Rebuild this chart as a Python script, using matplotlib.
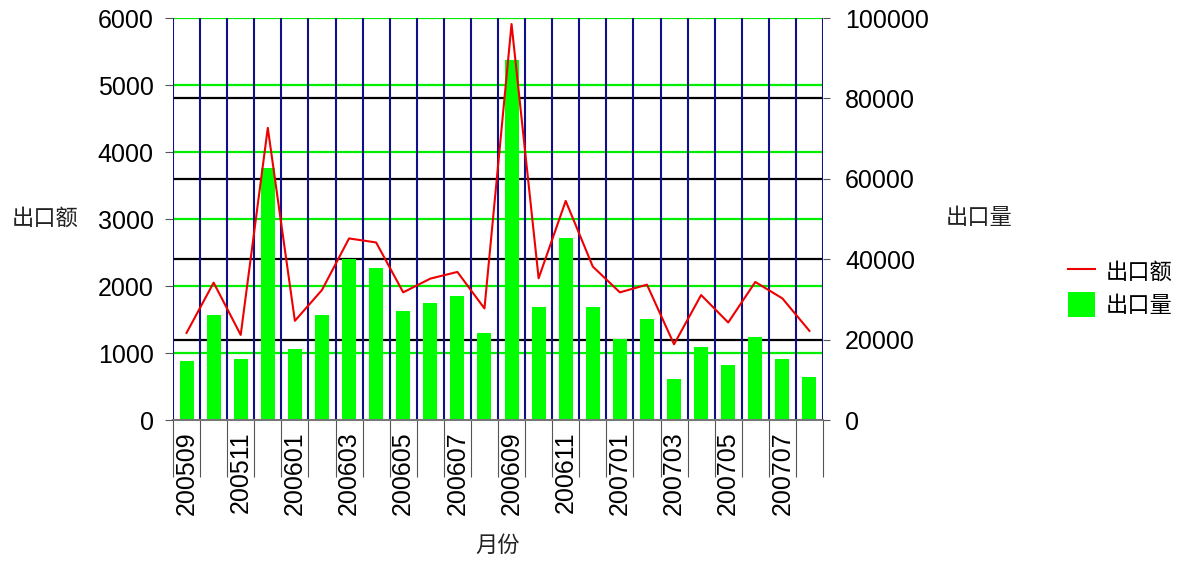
import matplotlib.pyplot as plt
import numpy as np
from matplotlib.lines import Line2D
from matplotlib.transforms import blended_transform_factory

plt.rcParams['font.family'] = ['Liberation Sans', 'Noto Sans CJK SC', 'DejaVu Sans']
cjk = ['Noto Sans CJK SC', 'DejaVu Sans']

# months 200509 .. 200708
months = ['200509', '200510', '200511', '200512', '200601', '200602', '200603', '200604',
          '200605', '200606', '200607', '200608', '200609', '200610', '200611', '200612',
          '200701', '200702', '200703', '200704', '200705', '200706', '200707', '200708']
# 出口额 (left axis, line)
amount = [1300, 2050, 1270, 4360, 1480, 1940, 2710, 2650, 1905, 2110, 2210, 1665,
          5910, 2115, 3270, 2290, 1905, 2020, 1130, 1865, 1455, 2060, 1815, 1330]
# 出口量 (right axis, bars)
volume = [14600, 26100, 15170, 62600, 17580, 26100, 40130, 37730, 27110, 29020, 30770, 21560,
          89470, 28030, 45190, 28030, 20150, 25120, 10120, 18160, 13600, 20650, 15090, 10610]

x = np.arange(len(months))

fig = plt.figure(figsize=(11.86, 5.62), dpi=100)
ax2 = fig.add_axes([173 / 1186, 1 - 420 / 562, 650 / 1186, 402 / 562])
ax = ax2.twinx()
ax.set_zorder(ax2.get_zorder() + 1)
ax.patch.set_visible(False)

ax.set_ylim(0, 6000)
ax2.set_ylim(0, 100000)
ax2.set_xlim(-0.5, len(months) - 0.5)
ax.set_yticks(np.arange(0, 6001, 1000))
ax2.set_yticks(np.arange(0, 100001, 20000))

# gridlines, all on the bottom axes so the bars cover them
trans_left = blended_transform_factory(ax2.transAxes, ax.transData)
for v in ax.get_yticks()[1:]:
    ax2.add_line(Line2D([0, 1], [v, v], transform=trans_left, color='#00ee00', lw=1.6, zorder=1))
for v in ax2.get_yticks()[1:-1]:
    ax2.axhline(v, color='black', lw=1.6, zorder=1.2)
for b in np.arange(-0.5, len(months), 1):
    ax2.axvline(b, color='#10108a', lw=1.5, zorder=1.5)

ax2.bar(x, volume, width=0.52, color='#00ff00', zorder=2, label='出口量')
ax.plot(x, amount, color='#ee0000', lw=1.5, label='出口额')

# left axis on the line axes
ax.yaxis.tick_left()
ax.yaxis.set_label_position('left')
ax2.yaxis.tick_right()
for a in (ax, ax2):
    for s in a.spines.values():
        s.set_visible(False)
ax2.spines['bottom'].set_visible(True)
ax2.spines['bottom'].set_color('#777777')
ax2.spines['bottom'].set_linewidth(1.5)

ax.tick_params(axis='y', labelsize=18, length=6, color='#555555', pad=8)
ax2.tick_params(axis='y', labelsize=18, length=5, color='#555555', pad=11)
ax.set_xticks([])

# x axis: long ticks at category boundaries, labels on every other month
ax2.set_xticks(np.arange(-0.5, len(months), 1))
ax2.set_xticklabels([])
ax2.tick_params(axis='x', which='major', length=41, color='#555555', width=0.8)
ax2.set_xticks(x[::2], minor=True)
ax2.set_xticklabels(months[::2], minor=True, rotation=90, fontsize=18, va='top')
ax2.tick_params(axis='x', which='minor', length=0, pad=8)

fig.text(45 / 1186, 1 - 218 / 562, '出口额', family=cjk, fontsize=16, color='#222222',
         ha='center', va='center')
fig.text(979 / 1186, 1 - 218 / 562, '出口量', family=cjk, fontsize=16, color='#222222',
         ha='center', va='center')
fig.text(498 / 1186, 1 - 545 / 562, '月份', family=cjk, fontsize=16, color='#222222',
         ha='center', va='center')

h1, l1 = ax.get_legend_handles_labels()
h2, l2 = ax2.get_legend_handles_labels()
fig.legend(h1 + h2, l1 + l2, loc='center left', bbox_to_anchor=(1068 / 1186, 1 - 288 / 562),
           frameon=False, prop={'family': cjk, 'size': 16}, handlelength=1.2,
           handleheight=1.3, handletextpad=0.5, labelspacing=0.4,
           borderpad=0, borderaxespad=0)

fig.savefig('out.png', dpi=100)
